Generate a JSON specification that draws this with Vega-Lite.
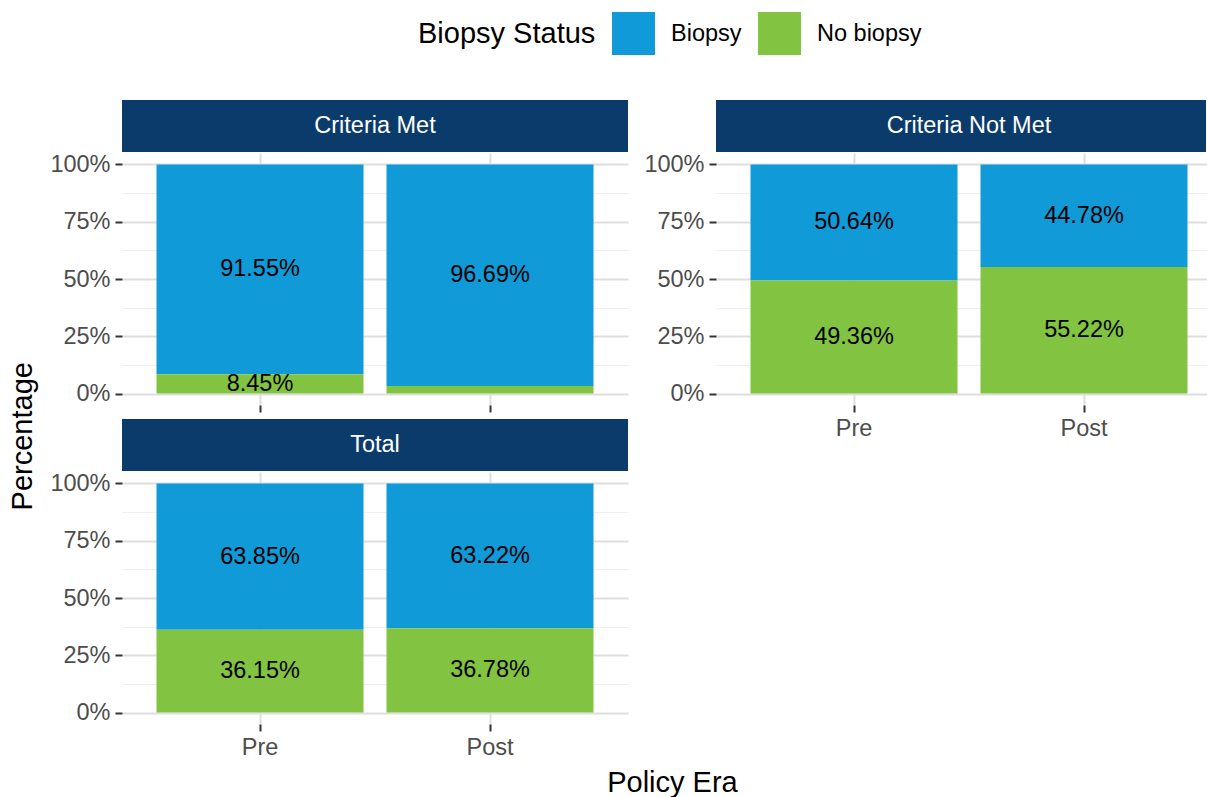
{
  "$schema": "https://vega.github.io/schema/vega-lite/v6.json",
  "padding": {"left": 8, "top": 12, "right": 0, "bottom": 0},
  "datasets": {
    "bars": [
      {"panel": "Criteria Met", "era": "Pre", "status": "Biopsy", "pct": 0.9155},
      {"panel": "Criteria Met", "era": "Pre", "status": "No biopsy", "pct": 0.0845},
      {"panel": "Criteria Met", "era": "Post", "status": "Biopsy", "pct": 0.9669},
      {"panel": "Criteria Met", "era": "Post", "status": "No biopsy", "pct": 0.0331},
      {"panel": "Criteria Not Met", "era": "Pre", "status": "Biopsy", "pct": 0.5064},
      {"panel": "Criteria Not Met", "era": "Pre", "status": "No biopsy", "pct": 0.4936},
      {"panel": "Criteria Not Met", "era": "Post", "status": "Biopsy", "pct": 0.4478},
      {"panel": "Criteria Not Met", "era": "Post", "status": "No biopsy", "pct": 0.5522},
      {"panel": "Total", "era": "Pre", "status": "Biopsy", "pct": 0.6385},
      {"panel": "Total", "era": "Pre", "status": "No biopsy", "pct": 0.3615},
      {"panel": "Total", "era": "Post", "status": "Biopsy", "pct": 0.6322},
      {"panel": "Total", "era": "Post", "status": "No biopsy", "pct": 0.3678}
    ]
  },
  "config": {
    "font": "Liberation Sans",
    "view": {"stroke": null}
  },
  "title": {"text": "Policy Era", "orient": "bottom", "anchor": "middle", "fontSize": 29, "fontWeight": "normal", "color": "black", "offset": 10, "dx": 57},
  "vconcat": [
    {
      "title": {"text": "Percentage", "orient": "left", "anchor": "middle", "fontSize": 29, "fontWeight": "normal", "color": "black", "offset": 12, "dx": -7},
      "spacing": 15,
      "hconcat": [
        {
          "spacing": 6,
          "vconcat": [
            {
              "spacing": 0,
              "vconcat": [
                {
                  "width": 506, "height": 52,
                  "view": {"fill": "#0b3b6b", "stroke": null},
                  "data": {"values": [{"panel": "Criteria Met"}]},
                  "mark": {"type": "text", "color": "white", "fontSize": 23.5, "baseline": "middle"},
                  "encoding": {"text": {"field": "panel", "type": "nominal"}}
                },
                {
                  "width": 506, "height": 252,
                  "data": {"name": "bars"},
                  "transform": [{"filter": "datum.panel === 'Criteria Met'"}],
                  "encoding": {
                    "x": {"field": "era", "type": "nominal", "sort": ["Pre", "Post"],
                      "scale": {"paddingInner": 0.1, "paddingOuter": 0.15},
                      "axis": {"title": null, "labels": false, "domain": false, "ticks": true, "tickSize": 7, "tickWidth": 2, "tickColor": "#333333", "grid": true, "gridColor": "#dedede", "gridWidth": 2}},
                    "order": {"field": "status", "sort": "descending"}
                  },
                  "layer": [
                    {
                      "mark": {"type": "bar"},
                      "encoding": {
                        "y": {"field": "pct", "type": "quantitative", "stack": "zero", "scale": {"domain": [-0.05, 1.05], "nice": false, "zero": false},
                          "axis": {"orient": "left", "title": null, "values": [0.125, 0.375, 0.625, 0.875], "labels": false, "ticks": false, "domain": false, "grid": true, "gridColor": "#efefef", "gridWidth": 1}},
                        "color": {"field": "status", "type": "nominal", "scale": {"domain": ["Biopsy", "No biopsy"], "range": ["#109ad7", "#82c341"]},
                          "legend": {"orient": "none", "legendX": 296, "legendY": -88, "direction": "horizontal", "title": "Biopsy Status", "titleOrient": "left", "titleAnchor": "middle", "titleBaseline": "middle", "titleFontSize": 29, "titleFontWeight": "normal", "titleColor": "black", "titlePadding": 16, "labelFontSize": 23.5, "labelColor": "black", "labelOffset": 16, "columnPadding": 16, "symbolType": "square", "symbolSize": 1849, "symbolStrokeWidth": 0, "symbolOpacity": 1}}
                      }
                    },
                    {
                      "mark": {"type": "text", "fontSize": 23.5, "baseline": "middle", "color": "black"},
                      "encoding": {
                        "y": {"field": "pct", "type": "quantitative", "stack": "zero", "bandPosition": 0.5,
                          "axis": {"orient": "left", "title": null, "values": [0, 0.25, 0.5, 0.75, 1], "format": ".0%", "domain": false, "tickSize": 7, "tickWidth": 2, "tickColor": "#333333", "grid": true, "gridColor": "#dedede", "gridWidth": 2, "labelFontSize": 23.5, "labelColor": "#4d4d4d", "labelPadding": 5}},
                        "detail": {"field": "status", "type": "nominal"},
                        "text": {"field": "pct", "type": "quantitative", "format": ".2%", "condition": {"test": "datum.pct < 0.05", "value": ""}}
                      }
                    }
                  ],
                  "resolve": {"axis": {"y": "independent"}}
                }
              ]
            },
            {
              "spacing": 0,
              "vconcat": [
                {
                  "width": 506, "height": 52,
                  "view": {"fill": "#0b3b6b", "stroke": null},
                  "data": {"values": [{"panel": "Total"}]},
                  "mark": {"type": "text", "color": "white", "fontSize": 23.5, "baseline": "middle"},
                  "encoding": {"text": {"field": "panel", "type": "nominal"}}
                },
                {
                  "width": 506, "height": 252,
                  "data": {"name": "bars"},
                  "transform": [{"filter": "datum.panel === 'Total'"}],
                  "encoding": {
                    "x": {"field": "era", "type": "nominal", "sort": ["Pre", "Post"],
                      "scale": {"paddingInner": 0.1, "paddingOuter": 0.15},
                      "axis": {"title": null, "labels": true, "labelAngle": 0, "domain": false, "ticks": true, "tickSize": 7, "tickWidth": 2, "tickColor": "#333333", "grid": true, "gridColor": "#dedede", "gridWidth": 2, "labelFontSize": 23.5, "labelColor": "#4d4d4d", "labelPadding": 4}},
                    "order": {"field": "status", "sort": "descending"}
                  },
                  "layer": [
                    {
                      "mark": {"type": "bar"},
                      "encoding": {
                        "y": {"field": "pct", "type": "quantitative", "stack": "zero", "scale": {"domain": [-0.05, 1.05], "nice": false, "zero": false},
                          "axis": {"orient": "left", "title": null, "values": [0.125, 0.375, 0.625, 0.875], "labels": false, "ticks": false, "domain": false, "grid": true, "gridColor": "#efefef", "gridWidth": 1}},
                        "color": {"field": "status", "type": "nominal", "scale": {"domain": ["Biopsy", "No biopsy"], "range": ["#109ad7", "#82c341"]}}
                      }
                    },
                    {
                      "mark": {"type": "text", "fontSize": 23.5, "baseline": "middle", "color": "black"},
                      "encoding": {
                        "y": {"field": "pct", "type": "quantitative", "stack": "zero", "bandPosition": 0.5,
                          "axis": {"orient": "left", "title": null, "values": [0, 0.25, 0.5, 0.75, 1], "format": ".0%", "domain": false, "tickSize": 7, "tickWidth": 2, "tickColor": "#333333", "grid": true, "gridColor": "#dedede", "gridWidth": 2, "labelFontSize": 23.5, "labelColor": "#4d4d4d", "labelPadding": 5}},
                        "detail": {"field": "status", "type": "nominal"},
                        "text": {"field": "pct", "type": "quantitative", "format": ".2%", "condition": {"test": "datum.pct < 0.05", "value": ""}}
                      }
                    }
                  ],
                  "resolve": {"axis": {"y": "independent"}}
                }
              ]
            }
          ]
        },
        {
          "spacing": 0,
          "vconcat": [
            {
              "width": 490, "height": 52,
              "view": {"fill": "#0b3b6b", "stroke": null},
              "data": {"values": [{"panel": "Criteria Not Met"}]},
              "mark": {"type": "text", "color": "white", "fontSize": 23.5, "baseline": "middle", "dx": 8},
              "encoding": {"text": {"field": "panel", "type": "nominal"}}
            },
            {
              "width": 490, "height": 252,
              "data": {"name": "bars"},
              "transform": [{"filter": "datum.panel === 'Criteria Not Met'"}],
              "encoding": {
                "x": {"field": "era", "type": "nominal", "sort": ["Pre", "Post"],
                  "scale": {"paddingInner": 0.1, "paddingOuter": 0.15, "range": [0, 506]},
                  "axis": {"title": null, "labels": true, "labelAngle": 0, "domain": false, "ticks": true, "tickSize": 7, "tickWidth": 2, "tickColor": "#333333", "grid": true, "gridColor": "#dedede", "gridWidth": 2, "labelFontSize": 23.5, "labelColor": "#4d4d4d", "labelPadding": 4}},
                "order": {"field": "status", "sort": "descending"}
              },
              "layer": [
                {
                  "mark": {"type": "bar"},
                  "encoding": {
                    "y": {"field": "pct", "type": "quantitative", "stack": "zero", "scale": {"domain": [-0.05, 1.05], "nice": false, "zero": false},
                      "axis": {"orient": "left", "title": null, "values": [0.125, 0.375, 0.625, 0.875], "labels": false, "ticks": false, "domain": false, "grid": true, "gridColor": "#efefef", "gridWidth": 1}},
                    "color": {"field": "status", "type": "nominal", "scale": {"domain": ["Biopsy", "No biopsy"], "range": ["#109ad7", "#82c341"]}}
                  }
                },
                {
                  "mark": {"type": "text", "fontSize": 23.5, "baseline": "middle", "color": "black"},
                  "encoding": {
                    "y": {"field": "pct", "type": "quantitative", "stack": "zero", "bandPosition": 0.5,
                      "axis": {"orient": "left", "title": null, "values": [0, 0.25, 0.5, 0.75, 1], "format": ".0%", "domain": false, "tickSize": 7, "tickWidth": 2, "tickColor": "#333333", "grid": true, "gridColor": "#dedede", "gridWidth": 2, "labelFontSize": 23.5, "labelColor": "#4d4d4d", "labelPadding": 5}},
                    "detail": {"field": "status", "type": "nominal"},
                    "text": {"field": "pct", "type": "quantitative", "format": ".2%", "condition": {"test": "datum.pct < 0.05", "value": ""}}
                  }
                }
              ],
              "resolve": {"axis": {"y": "independent"}}
            }
          ]
        }
      ]
    }
  ]
}
